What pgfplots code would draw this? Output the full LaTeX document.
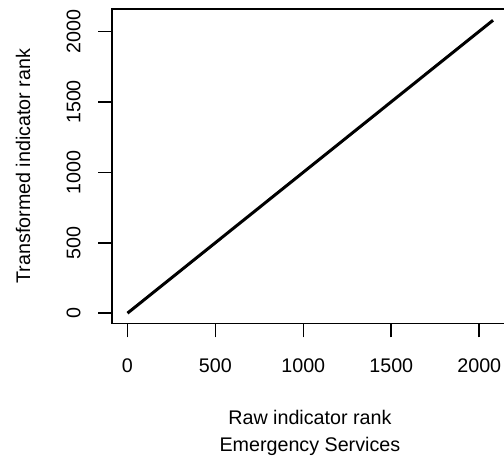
\documentclass[border=0pt]{standalone}
\usepackage{fontspec}
\setmainfont{Liberation Sans}
\usepackage{pgfplots}
\pgfplotsset{compat=1.18}
\begin{document}
\fontsize{9.85bp}{12bp}\selectfont
\begin{tikzpicture}
\begin{axis}[
    scale only axis,
    width=197.9bp, height=157.15bp,
    xmin=-87, xmax=2162,
    ymin=-71, ymax=2160,
    xtick={0,500,1000,1500,2000},
    ytick={0,500,1000,1500,2000},
    xtick pos=lower, ytick pos=left,
    tick align=outside,
    major tick length=7bp,
    every tick/.style={black, line width=0.8bp},
    axis line style={black, line width=0.8bp},
    /pgf/number format/assume math mode=true,
    /pgf/number format/1000 sep={},
    ticklabel style={font=\fontsize{9.85bp}{12bp}\selectfont},
    xticklabel shift=7.2bp,
    yticklabel style={rotate=90, anchor=south},
    yticklabel shift=5.2bp,
]
\coordinate (bl) at (rel axis cs:0,0);
\coordinate (lm) at (rel axis cs:0,0.5);
\coordinate (bm) at (rel axis cs:0.5,0);

% raw vs transformed rank
\addplot[black, line width=1.5bp] coordinates {
    (1,1) (2078,2080)
};
\end{axis}
\node[rotate=90] at ([xshift=-44.5bp]lm) {Transformed indicator rank};
\node[align=center, font=\fontsize{9.85bp}{13.5bp}\selectfont] at ([yshift=-54.75bp]bm) {Raw indicator rank\\Emergency Services};
\pgfresetboundingbox
\path ([xshift=-56bp, yshift=-69.35bp]bl) rectangle ++(252bp,231bp);
\end{tikzpicture}
\end{document}
